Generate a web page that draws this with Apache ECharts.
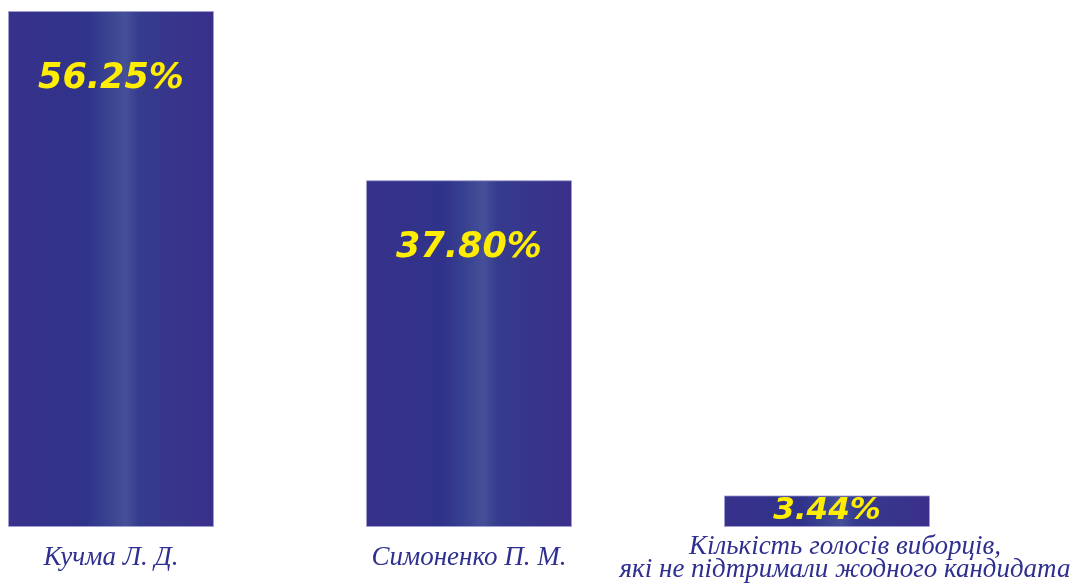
<!DOCTYPE html>
<html><head><meta charset="utf-8">
<script src="https://cdn.jsdelivr.net/npm/echarts@6/dist/echarts.min.js"></script>
<style>html,body{margin:0;padding:0;background:#fff}#c{width:1079px;height:584px}</style>
</head><body><div id="c"></div>
<script>
const categories = ['Кучма Л. Д.', 'Симоненко П. М.', 'Кількість голосів виборців,\nякі не підтримали жодного кандидата'];
const values = [56.25, 37.80, 3.44];
const valueLabels = ['56.25%', '37.80%', '3.44%'];

const chart = echarts.init(document.getElementById('c'));
const grad = new echarts.graphic.LinearGradient(0, 0, 1, 0, [
  {offset: 0, color: '#37318b'},
  {offset: 0.38, color: '#30338a'},
  {offset: 0.5, color: '#3a4592'},
  {offset: 0.57, color: '#465099'},
  {offset: 0.64, color: '#353b8d'},
  {offset: 1, color: '#3a2f8a'}
]);
chart.setOption({
  animation: false,
  grid: {left: 111, right: 252, top: 11, bottom: 57, containLabel: false, outerBoundsMode: 'none'},
  xAxis: {
    type: 'category', data: categories, boundaryGap: false,
    axisLine: {show: false}, axisTick: {show: false},
    axisLabel: {
      interval: 0, margin: 31, color: '#2e2f8f', verticalAlign: 'middle',
      fontFamily: 'Liberation Serif', fontStyle: 'italic', fontSize: 27, lineHeight: 23,
      formatter: function (v, i) { return i === 2 ? '{o|' + v + '}' : v; },
      rich: {o: {padding: [0, 0, 0, 36], fontFamily: 'Liberation Serif', fontStyle: 'italic', fontSize: 27, lineHeight: 23, color: '#2e2f8f'}}
    }
  },
  yAxis: {type: 'value', min: 0, max: 56.25, show: false, splitLine: {show: false}},
  series: [{
    type: 'bar', barWidth: 206,
    data: values.map(function (v, i) {
      return {value: v, label: i === 2 ? {position: 'inside', fontSize: 31} : {}};
    }),
    itemStyle: {color: grad, borderColor: 'rgba(160,160,215,0.8)', borderWidth: 1},
    label: {
      show: true, position: 'insideTop', distance: 50,
      formatter: function (p) { return valueLabels[p.dataIndex]; },
      color: '#ffee00', fontFamily: 'DejaVu Sans', fontWeight: 'bold', fontStyle: 'italic', fontSize: 35
    }
  }]
});
</script></body></html>
